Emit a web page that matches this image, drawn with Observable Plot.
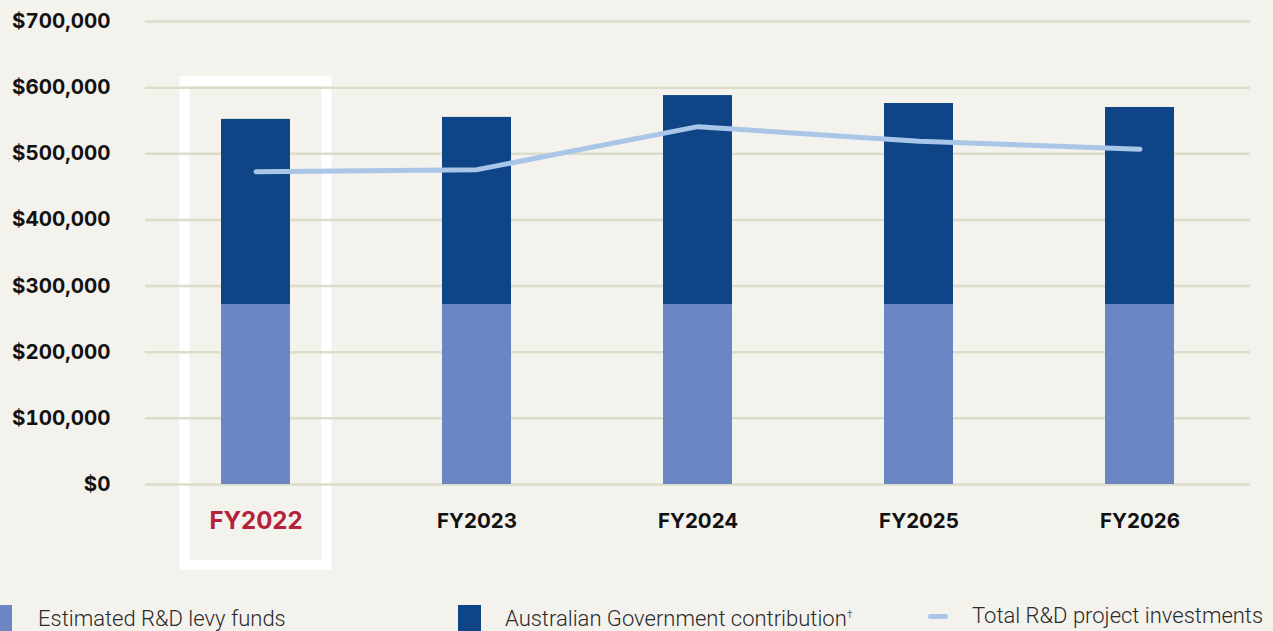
<!DOCTYPE html>
<html>
<head>
<meta charset="utf-8">
<script src="https://cdn.jsdelivr.net/npm/d3@7"></script>
<script src="https://cdn.jsdelivr.net/npm/@observablehq/plot@0.6"></script>
<style>
  html, body { margin: 0; padding: 0; background: #f3f2ed; overflow: hidden; }
  #wrap { position: relative; width: 1273px; height: 631px; }
  .leg { position: absolute; top: 608px; line-height: 21px; white-space: nowrap; font-family: Roboto, "Open Sans", sans-serif; font-weight: 300; font-size: 22px; color: #2a2a2a; }
  .sw { position: absolute; }
  .dag { position: relative; top: -8px; font-size: 11px; }
</style>
</head>
<body>
<div id="wrap">
  <div id="chart"></div>
</div>
<script>
const years = ["FY2022", "FY2023", "FY2024", "FY2025", "FY2026"];
const levyFunds = [272000, 272000, 272000, 272000, 272000];
const govContribution = [280000, 283000, 316000, 304000, 298000];
const totalInvestments = [473000, 476000, 541000, 519000, 507000];
const yTicks = [0, 100000, 200000, 300000, 400000, 500000, 600000, 700000];
const highlightYear = "FY2022";
const seriesNames = ["Estimated R&D levy funds", "Australian Government contribution\u2020", "Total R&D project investments"];
const colors = { levy: "#6b86c3", gov: "#0f4587", total: "#a9c5e8", grid: "#dcdccb", red: "#b5203a" };

const stacked = [];
years.forEach((y, i) => {
  stacked.push({ year: y, series: "levy", value: levyFunds[i] });
  stacked.push({ year: y, series: "gov", value: govContribution[i] });
});
const lineData = years.map((y, i) => ({ year: y, value: totalInvestments[i] }));
const boxData = [{ year: highlightYear, lo: -122000, hi: 609000 }];

const chart = Plot.plot({
  width: 1273,
  height: 592,
  marginLeft: 145,
  marginRight: 23,
  marginTop: 21,
  marginBottom: 108,
  style: { background: "transparent", fontFamily: "Inter, sans-serif" },
  x: { domain: years, paddingInner: 0.69, paddingOuter: 0.345, axis: null },
  y: { domain: [0, 700000], axis: null },
  color: { domain: ["levy", "gov"], range: [colors.levy, colors.gov] },
  marks: [
    Plot.barY(boxData, { x: "year", y1: "lo", y2: "hi", fill: "none", stroke: "white", strokeWidth: 10, insetLeft: -36.5, insetRight: -36.5 }),
    Plot.ruleY(yTicks, { stroke: colors.grid, strokeWidth: 2.5 }),
    Plot.axisY({ ticks: yTicks, tickSize: 0, tickPadding: 35, tickFormat: d => "$" + d3.format(",")(d), fontSize: 20.5, fontWeight: 700, fill: "#111", label: null }),
    Plot.barY(stacked, { x: "year", y: "value", fill: "series", order: ["levy", "gov"] }),
    Plot.lineY(lineData, { x: "year", y: "value", stroke: colors.total, strokeWidth: 5, strokeLinecap: "round", strokeLinejoin: "round" }),
    Plot.text(years, { x: d => d, y: () => 0, dy: 37, text: d => d, fill: d => d === highlightYear ? colors.red : "#111", fontSize: d => d === highlightYear ? 24 : 20.5, fontWeight: 700 })
  ]
});
document.getElementById("chart").appendChild(chart);

const wrap = document.getElementById("wrap");
const legendItems = [
  { swatch: { left: -11, top: 605, width: 23, height: 30, background: colors.levy }, textLeft: 38, name: seriesNames[0] },
  { swatch: { left: 458, top: 605, width: 23, height: 30, background: colors.gov }, textLeft: 505, name: seriesNames[1] },
  { swatch: { left: 928, top: 614, width: 20, height: 5, background: colors.total, borderRadius: "3px" }, textLeft: 972, name: seriesNames[2], top: 605 }
];
legendItems.forEach(it => {
  const s = document.createElement("div");
  s.className = "sw";
  Object.assign(s.style, {
    left: it.swatch.left + "px", top: it.swatch.top + "px", width: it.swatch.width + "px", height: it.swatch.height + "px",
    background: it.swatch.background, borderRadius: it.swatch.borderRadius || "0"
  });
  wrap.appendChild(s);
  const t = document.createElement("div");
  t.className = "leg";
  t.style.left = it.textLeft + "px";
  if (it.top) t.style.top = it.top + "px";
  t.innerHTML = it.name.replace("\u2020", "<span class='dag'>\u2020</span>");
  wrap.appendChild(t);
});
</script>
</body>
</html>
